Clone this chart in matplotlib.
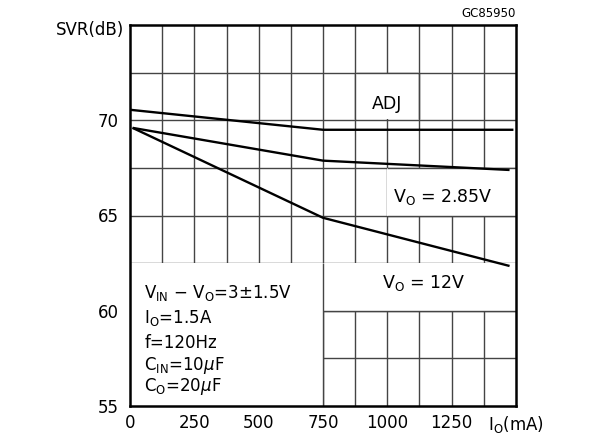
import matplotlib.pyplot as plt
from matplotlib.patches import Rectangle
import numpy as np

# Curvas SVR x Io
io_adj = [0, 750, 1490]
svr_adj = [70.55, 69.5, 69.5]

io_285 = [10, 750, 1475]
svr_285 = [69.6, 67.88, 67.39]

io_12 = [10, 750, 1475]
svr_12 = [69.6, 64.88, 62.35]

x_ticks = [0, 250, 500, 750, 1000, 1250]
x_tick_labels = ['0', '250', '500', '750', '1000', '1250']
y_ticks = [55, 60, 65, 70]

fig = plt.figure(figsize=(6.02, 4.45), dpi=100)
ax = fig.add_axes([130 / 602, 39 / 445, 386 / 602, 381 / 445])

ax.set_xlim(0, 1500)
ax.set_ylim(55, 75)

# Grade a cada 125 mA e 2.5 dB (desenhada a mao)
gc = '#444444'
ax.vlines(np.arange(125, 1500, 125), 55, 75, color=gc, lw=1.0, zorder=0.5)
ax.hlines(np.arange(57.5, 75, 2.5), 0, 1500, color=gc, lw=1.0, zorder=0.5)

ax.set_xticks(x_ticks + [1500])
ax.set_xticklabels(x_tick_labels + [r'$\mathregular{I_O}$(mA)'])
ax.set_yticks(y_ticks)
ax.tick_params(length=0, labelsize=12)
ax.tick_params(axis='x', pad=6)
ax.tick_params(axis='y', pad=8)
for s in ax.spines.values():
    s.set_linewidth(1.8)

# Caixas brancas por tras dos textos
boxes = [(0, 55, 750, 7.5), (750, 60, 750, 2.5), (1000, 65, 500, 2.5), (880, 70.05, 240, 2.4)]
for bx, by, bw, bh in boxes:
    ax.add_patch(Rectangle((bx, by), bw, bh, facecolor='white', edgecolor='none', zorder=1))
# linhas que passam por cima das caixas
ax.vlines([750], 55, 62.5, color=gc, lw=1.0, zorder=1.5)
ax.hlines([60, 65, 67.5, 72.5], [750, 1000, 1000, 880], [1500, 1500, 1500, 1120],
          color=gc, lw=1.0, zorder=1.5)
ax.vlines([875, 1125], 70.05, 72.5, color=gc, lw=1.0, zorder=1.5)

for xs, ys in [(io_adj, svr_adj), (io_285, svr_285), (io_12, svr_12)]:
    ax.plot(xs, ys, color='black', lw=1.7, zorder=3, solid_capstyle='butt')

fs = 12.5
ax.text(1000, 70.87, 'ADJ', ha='center', va='center', fontsize=fs, zorder=4)
ax.text(1216, 65.96, r'$\mathregular{V_O}$ = 2.85V', ha='center', va='center', fontsize=fs, zorder=4)
ax.text(1140, 61.44, r'$\mathregular{V_O}$ = 12V', ha='center', va='center', fontsize=fs, zorder=4)

cond = [
    (60.95, r'$\mathregular{V_{IN}}$ $-$ $\mathregular{V_O}$=3$\pm$1.5V'),
    (59.6, r'$\mathregular{I_O}$=1.5A'),
    (58.3, r'f=120Hz'),
    (57.15, r'$\mathregular{C_{IN}}$=10$\mu$F'),
    (56.0, r'$\mathregular{C_O}$=20$\mu$F'),
]
for yy, t in cond:
    ax.text(55, yy, t, ha='left', va='center', fontsize=12, zorder=4)

ax.text(-0.015, 0.987, 'SVR(dB)', transform=ax.transAxes, ha='right', va='center', fontsize=12)
ax.text(1.0, 1.012, 'GC85950', transform=ax.transAxes, ha='right', va='bottom', fontsize=8.5)

fig.savefig('out.png', dpi=100)
